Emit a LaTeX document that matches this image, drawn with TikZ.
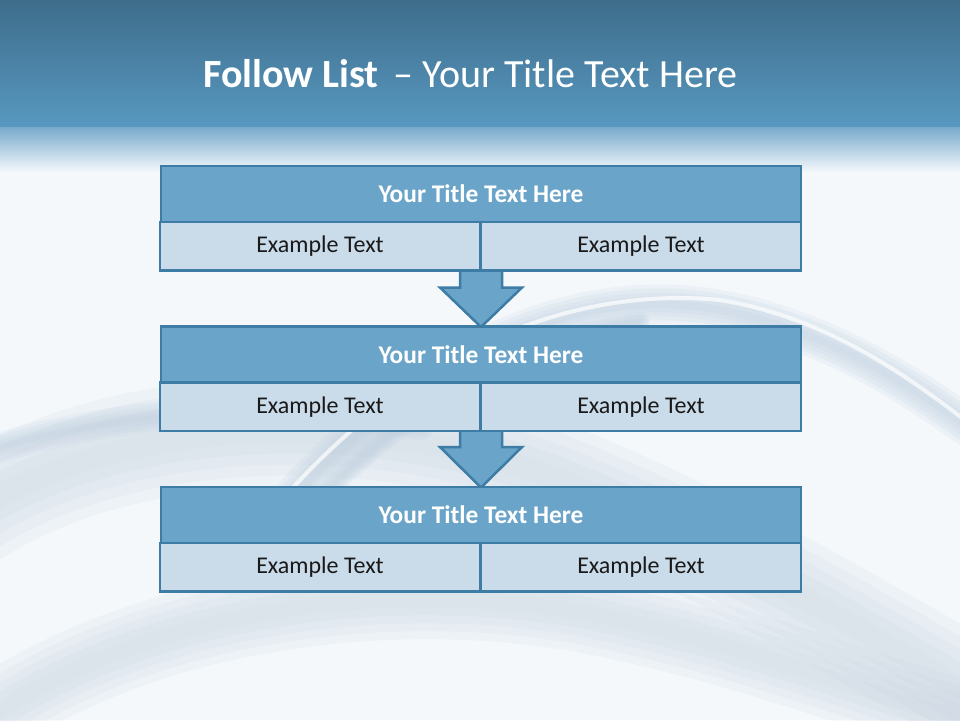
\documentclass[tikz,border=0pt]{standalone}
\usepackage{fontspec}
\setmainfont{Carlito}
\usetikzlibrary{calc}
\definecolor{bgc}{HTML}{F4F8FB}
\definecolor{hdtop}{HTML}{3E6D8B}
\definecolor{hdbot}{HTML}{5898C0}
\definecolor{hdfade}{HTML}{78AACB}
\definecolor{titc}{HTML}{6AA4C8}
\definecolor{cellc}{HTML}{CADBE9}
\definecolor{bordc}{HTML}{3D7CA5}
\definecolor{ribc}{HTML}{B9CCDD}
\definecolor{ribd}{HTML}{C9D4E0}
\tikzset{
  hdrbox/.style={draw=bordc, fill=titc, line width=2.5pt, minimum width=640pt, minimum height=56pt,
    text=white, font=\bfseries\fontsize{25.4}{28}\selectfont, inner sep=0pt},
  cellbox/.style={draw=bordc, fill=cellc, line width=2.5pt, minimum width=320pt, minimum height=48.5pt,
    text={black!90}, font=\fontsize{24}{28}\selectfont, inner sep=0pt},
  flowarrow/.style={draw=bordc, fill=titc, line width=2.5pt, line join=miter},
  softrib/.style={line cap=round, draw opacity=0.14},
}
\newcommand{\softpath}[3]{% colour, width, path
  \foreach \f in {1,0.8,0.6,0.4,0.2}{\draw[#1, softrib, line width=\f*#2] #3;}}
\begin{document}
\begin{tikzpicture}[x=1pt,y=-1pt]
\useasboundingbox (0,0) rectangle (960,720);
% background
\fill[bgc] (0,0) rectangle (960,720);
% ribbons
\begin{scope}
\clip (0,127) rectangle (960,720);
\softpath{ribd}{110pt}{(-40,520) .. controls (120,410) and (380,410) .. (560,480) .. controls (720,545) and (860,630) .. (1000,710)}
\softpath{ribc}{40pt}{(230,575) .. controls (380,370) and (560,280) .. (720,310) .. controls (830,330) and (920,390) .. (1000,450)}
\draw[white, line width=4pt, line cap=round, draw opacity=0.7] (245,545) .. controls (390,355) and (565,285) .. (720,300) .. controls (830,318) and (915,380) .. (990,440);
\softpath{ribc}{20pt}{(300,520) .. controls (420,390) and (540,335) .. (640,322)}
\softpath{ribd}{80pt}{(-40,740) .. controls (120,610) and (400,570) .. (620,620) .. controls (780,655) and (880,700) .. (1000,730)}
\softpath{ribc}{30pt}{(-40,460) .. controls (100,412) and (250,400) .. (420,425)}
\end{scope}
% header
\shade[top color=hdtop, bottom color=hdbot] (0,0) rectangle (960,127);
\shade[top color=hdfade, bottom color=bgc] (0,127) rectangle (960,172);
\node[anchor=base west, text=white, font=\fontsize{40}{46}\selectfont, inner sep=0pt] (maintitle) at (203,87)
  {\textbf{Follow List}\hspace{15pt}– Your Title Text Here};
% arrows (drawn below boxes)
\coordinate (s1) at (481,270.5);
\coordinate (s2) at (481,431);
\coordinate (n2) at (481,327);
\coordinate (n3) at (481,487.5);
\draw[flowarrow] ([xshift=-21pt]s1) -- ([xshift=-21pt,yshift=-17pt]s1) -- ([xshift=-41pt,yshift=-17pt]s1) -- (n2)
  -- ([xshift=41pt,yshift=-17pt]s1) -- ([xshift=21pt,yshift=-17pt]s1) -- ([xshift=21pt]s1);
\draw[flowarrow] ([xshift=-21pt]s2) -- ([xshift=-21pt,yshift=-16pt]s2) -- ([xshift=-41pt,yshift=-16pt]s2) -- (n3)
  -- ([xshift=41pt,yshift=-16pt]s2) -- ([xshift=21pt,yshift=-16pt]s2) -- ([xshift=21pt]s2);
% boxes
\foreach \i/\y in {1/166, 2/326.5, 3/487}{
  \node[hdrbox] (t\i) at (481,\y+28) {Your Title Text Here};
  \node[cellbox] (l\i) at (320,\y+56+24.25) {Example Text};
  \node[cellbox] (r\i) at (641,\y+56+24.25) {Example Text};
}
\end{tikzpicture}
\end{document}
